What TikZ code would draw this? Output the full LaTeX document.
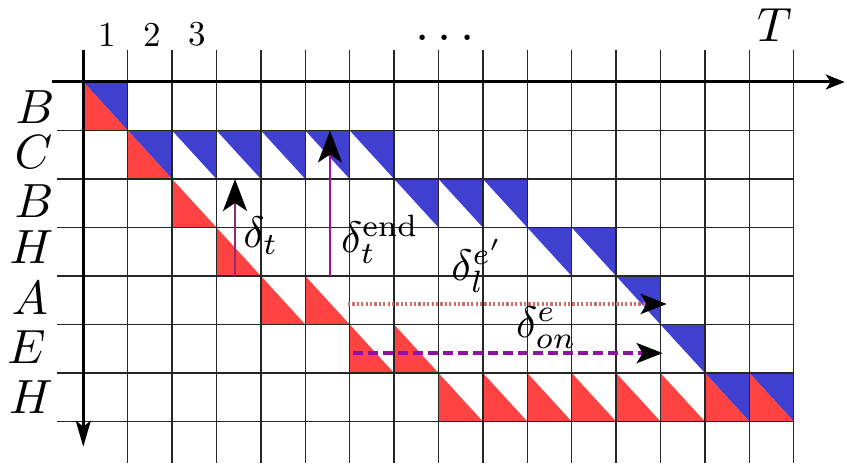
\documentclass[tikz,border=0pt]{standalone}
\usetikzlibrary{arrows.meta}
\definecolor{cellblue}{RGB}{64,64,208}
\definecolor{cellred}{RGB}{255,66,66}
\definecolor{dtcol}{RGB}{150,40,110}
\definecolor{endcol}{RGB}{160,16,160}
\definecolor{dotcol}{RGB}{200,112,112}
\definecolor{dashcol}{RGB}{145,16,165}
\begin{document}
\begin{tikzpicture}[x=1pt,y=-1pt,
  gridline/.style={line width=1.4pt,black!85},
  axisline/.style={line width=3pt,black},
  bluecell/.style={fill=cellblue},
  redcell/.style={fill=cellred},
  rowlbl/.style={inner sep=0pt,scale=4.8},
  collbl/.style={inner sep=0pt,scale=3.5},
  dlbl/.style={inner sep=0pt,scale=4.4},
  vtip/.style={-{Stealth[length=32pt,width=24pt,inset=8pt,color=black]}},
  htip/.style={-{Stealth[length=26pt,width=20pt,inset=6pt,color=black]}}]
\useasboundingbox (0,0) rectangle (847,468);
\begin{scope}[shift={(83.3,82)},x=44.4pt,y=-48.5pt]
  % blue upper-right triangles
  \foreach \c/\r in {1/1,2/2,3/2,4/2,5/2,6/2,7/2,8/3,9/3,10/3,11/4,12/4,13/5,14/6,15/7,16/7}
    \fill[bluecell] (\c-1,\r-1) -- (\c,\r-1) -- (\c,\r) -- cycle;
  % red lower-left triangles
  \foreach \c/\r in {1/1,2/2,3/3,4/4,5/5,6/5,7/6,8/6,9/7,10/7,11/7,12/7,13/7,14/7,15/7,16/7}
    \fill[redcell] (\c-1,\r-1) -- (\c-1,\r) -- (\c,\r) -- cycle;
  % grid
  \foreach \k in {1,...,16}
    \draw[gridline] (\k,-0.66) -- (\k,7.86);
  \foreach \j in {1,...,7}
    \draw[gridline] (-0.59,\j) -- (16,\j);
  % axes
  \coordinate (hxS) at (-0.705,0);
  \coordinate (hxE) at (17.15,0);
  \coordinate (vxS) at (0,-0.66);
  \coordinate (vxE) at (0,7.52);
  \draw[axisline,-{Stealth[length=19pt,width=15pt,inset=5pt]}] (hxS) -- (hxE);
  \draw[axisline,-{Stealth[length=26pt,width=15pt,inset=6pt]}] (vxS) -- (vxE);
  % arrow end points
  \coordinate (dtS) at (3.417,4);
  \coordinate (dtE) at (3.417,2);
  \coordinate (deS) at (5.556,4);
  \coordinate (deE) at (5.556,1);
  \coordinate (dlS) at (5.96,4.577);
  \coordinate (dlE) at (13.14,4.577);
  \coordinate (doS) at (6.07,5.59);
  \coordinate (doE) at (13.05,5.59);
\end{scope}
% delta arrows
\draw[dtcol,line width=2.4pt,vtip] (dtS) -- (dtE);
\draw[endcol,line width=2.4pt,vtip] (deS) -- (deE);
\draw[dotcol,line width=4pt,dash pattern=on 2.2pt off 2.2pt,htip] (dlS) -- (dlE);
\draw[dashcol,line width=4pt,dash pattern=on 10pt off 5pt,htip] (doS) -- (doE);
% column labels
\node[collbl] (c1) at (107,34.5) {1};
\node[collbl] (c2) at (152,34.5) {2};
\node[collbl] (c3) at (197,34.5) {3};
\node[inner sep=0pt,scale=5.1] (cdots) at (445,38) {$\dots$};
\node[rowlbl] (cT) at (774.5,25.5) {$T$};
% row labels
\node[rowlbl] (r1) at (35,107.5) {$B$};
\node[rowlbl] (r2) at (33.5,152.5) {$C$};
\node[rowlbl] (r3) at (34,201) {$B$};
\node[rowlbl] (r4) at (31.5,247.5) {$H$};
\node[rowlbl] (r5) at (30,298.5) {$A$};
\node[rowlbl] (r6) at (26.5,347.5) {$E$};
\node[rowlbl] (r7) at (31,397.5) {$H$};
% delta labels
\node[dlbl] (ldt) at (261,236) {$\delta_t$};
\node[dlbl] (lde) at (380,239) {$\delta_t^{\mathrm{end}}$};
\node[dlbl] (ldl) at (477.5,266) {$\delta_l^{e'}$};
\node[dlbl] (ldo) at (546.5,327.5) {$\delta^e_{on}$};
\end{tikzpicture}
\end{document}
